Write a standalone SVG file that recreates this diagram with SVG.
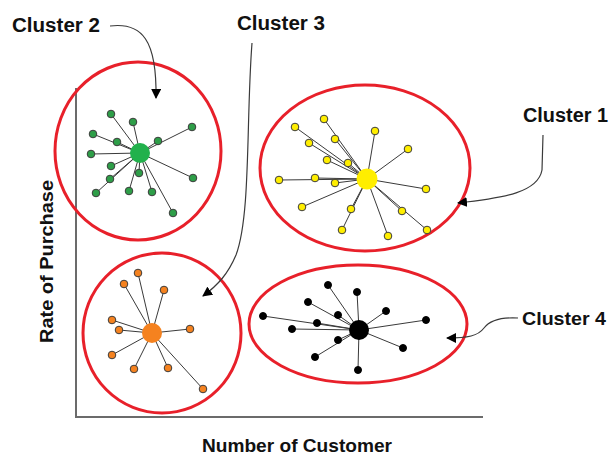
<svg xmlns="http://www.w3.org/2000/svg" width="610" height="457" viewBox="0 0 610 457">
  <style>
    .ring { fill: none; stroke: #e8202a; stroke-width: 3; }
    .spoke { stroke: #3a3a3a; stroke-width: 1; }
    .pt { stroke: #3c3c3c; stroke-width: 1; }
    .green { fill: #2e9e48; }
    .yellow { fill: #ffee00; }
    .orange { fill: #f5821f; }
    .black { fill: #000; stroke: #000; }
    .axis { stroke: #6b6b6b; stroke-width: 2; fill: none; }
    .lbl { font-family: "Liberation Sans", Arial, sans-serif; font-weight: bold; fill: #111; }
    .callout { fill: none; stroke: #3a3a3a; stroke-width: 1.2; marker-end: url(#head); }
  </style>
  <defs>
    <marker id="head" viewBox="0 0 10 10" refX="9" refY="5" markerWidth="10" markerHeight="10" markerUnits="userSpaceOnUse" orient="auto">
      <path d="M0,0 L10,5 L0,10 z" fill="#000"/>
    </marker>
  </defs>
  <rect width="610" height="457" fill="#fff"/>

  <!-- axes -->
  <g id="axes">
    <path class="axis" d="M76,88 V417 H483"/>
    <text class="lbl" x="202" y="452" font-size="19" textLength="190" lengthAdjust="spacingAndGlyphs">Number of Customer</text>
    <text class="lbl" transform="translate(53,343) rotate(-90)" font-size="19" textLength="163" lengthAdjust="spacingAndGlyphs">Rate of Purchase</text>
  </g>

  <!-- Cluster 2: green -->
  <g id="cluster2">
    <ellipse class="ring" cx="138" cy="151" rx="83" ry="89"/>
    <g class="spoke">
      <line x1="140" y1="153" x2="111" y2="114"/>
      <line x1="140" y1="153" x2="133" y2="122"/>
      <line x1="140" y1="153" x2="93" y2="134"/>
      <line x1="140" y1="153" x2="117" y2="142"/>
      <line x1="140" y1="153" x2="192" y2="127"/>
      <line x1="140" y1="153" x2="158" y2="141"/>
      <line x1="140" y1="153" x2="91" y2="154"/>
      <line x1="140" y1="153" x2="111" y2="166"/>
      <line x1="140" y1="153" x2="139" y2="173"/>
      <line x1="140" y1="153" x2="110" y2="179"/>
      <line x1="140" y1="153" x2="193" y2="178"/>
      <line x1="140" y1="153" x2="96" y2="193"/>
      <line x1="140" y1="153" x2="129" y2="191"/>
      <line x1="140" y1="153" x2="152" y2="192"/>
      <line x1="140" y1="153" x2="173" y2="213"/>
    </g>
    <g class="pt green">
      <circle cx="111" cy="114" r="3.8"/>
      <circle cx="133" cy="122" r="3.8"/>
      <circle cx="93" cy="134" r="3.8"/>
      <circle cx="117" cy="142" r="3.8"/>
      <circle cx="192" cy="127" r="3.8"/>
      <circle cx="158" cy="141" r="3.8"/>
      <circle cx="91" cy="154" r="3.8"/>
      <circle cx="111" cy="166" r="3.8"/>
      <circle cx="139" cy="173" r="3.8"/>
      <circle cx="110" cy="179" r="3.8"/>
      <circle cx="193" cy="178" r="3.8"/>
      <circle cx="96" cy="193" r="3.8"/>
      <circle cx="129" cy="191" r="3.8"/>
      <circle cx="152" cy="192" r="3.8"/>
      <circle cx="173" cy="213" r="3.8"/>
    </g>
    <circle cx="140" cy="153" r="10" fill="#22b14c"/>
    <text class="lbl" x="12" y="32" font-size="20" textLength="88" lengthAdjust="spacingAndGlyphs">Cluster 2</text>
  </g>

  <!-- Cluster 1: yellow -->
  <g id="cluster1">
    <ellipse class="ring" cx="365" cy="168" rx="105" ry="83"/>
    <g class="spoke">
      <line x1="367" y1="179" x2="324" y2="119"/>
      <line x1="367" y1="179" x2="295" y2="127"/>
      <line x1="367" y1="179" x2="375" y2="131"/>
      <line x1="367" y1="179" x2="335" y2="139"/>
      <line x1="367" y1="179" x2="309" y2="143"/>
      <line x1="367" y1="179" x2="408" y2="149"/>
      <line x1="367" y1="179" x2="327" y2="160"/>
      <line x1="367" y1="179" x2="348" y2="163"/>
      <line x1="367" y1="179" x2="279" y2="180"/>
      <line x1="367" y1="179" x2="315" y2="178"/>
      <line x1="367" y1="179" x2="335" y2="183"/>
      <line x1="367" y1="179" x2="426" y2="189"/>
      <line x1="367" y1="179" x2="302" y2="207"/>
      <line x1="367" y1="179" x2="351" y2="209"/>
      <line x1="367" y1="179" x2="402" y2="211"/>
      <line x1="367" y1="179" x2="342" y2="230"/>
      <line x1="367" y1="179" x2="388" y2="236"/>
      <line x1="367" y1="179" x2="427" y2="230"/>
    </g>
    <g class="pt yellow">
      <circle cx="324" cy="119" r="3.8"/>
      <circle cx="295" cy="127" r="3.8"/>
      <circle cx="375" cy="131" r="3.8"/>
      <circle cx="335" cy="139" r="3.8"/>
      <circle cx="309" cy="143" r="3.8"/>
      <circle cx="408" cy="149" r="3.8"/>
      <circle cx="327" cy="160" r="3.8"/>
      <circle cx="348" cy="163" r="3.8"/>
      <circle cx="279" cy="180" r="3.8"/>
      <circle cx="315" cy="178" r="3.8"/>
      <circle cx="335" cy="183" r="3.8"/>
      <circle cx="426" cy="189" r="3.8"/>
      <circle cx="302" cy="207" r="3.8"/>
      <circle cx="351" cy="209" r="3.8"/>
      <circle cx="402" cy="211" r="3.8"/>
      <circle cx="342" cy="230" r="3.8"/>
      <circle cx="388" cy="236" r="3.8"/>
      <circle cx="427" cy="230" r="3.8"/>
    </g>
    <circle cx="367" cy="179" r="10.5" fill="#ffee00"/>
    <text class="lbl" x="523" y="122" font-size="20" textLength="85" lengthAdjust="spacingAndGlyphs">Cluster 1</text>
  </g>

  <!-- Cluster 3: orange -->
  <g id="cluster3">
    <ellipse class="ring" cx="162" cy="333" rx="79" ry="80"/>
    <g class="spoke">
      <line x1="152" y1="333" x2="138" y2="273"/>
      <line x1="152" y1="333" x2="124" y2="284"/>
      <line x1="152" y1="333" x2="164" y2="290"/>
      <line x1="152" y1="333" x2="112" y2="320"/>
      <line x1="152" y1="333" x2="119" y2="330"/>
      <line x1="152" y1="333" x2="190" y2="329"/>
      <line x1="152" y1="333" x2="112" y2="355"/>
      <line x1="152" y1="333" x2="134" y2="369"/>
      <line x1="152" y1="333" x2="168" y2="368"/>
      <line x1="152" y1="333" x2="203" y2="389"/>
    </g>
    <g class="pt orange">
      <circle cx="138" cy="273" r="3.8"/>
      <circle cx="124" cy="284" r="3.8"/>
      <circle cx="164" cy="290" r="3.8"/>
      <circle cx="112" cy="320" r="3.8"/>
      <circle cx="119" cy="330" r="3.8"/>
      <circle cx="190" cy="329" r="3.8"/>
      <circle cx="112" cy="355" r="3.8"/>
      <circle cx="134" cy="369" r="3.8"/>
      <circle cx="168" cy="368" r="3.8"/>
      <circle cx="203" cy="389" r="3.8"/>
    </g>
    <circle cx="152" cy="333" r="10" fill="#f5821f"/>
    <text class="lbl" x="237" y="30" font-size="20" textLength="88" lengthAdjust="spacingAndGlyphs">Cluster 3</text>
  </g>

  <!-- Cluster 4: black -->
  <g id="cluster4">
    <ellipse class="ring" cx="358" cy="324" rx="109" ry="59"/>
    <g class="spoke">
      <line x1="359" y1="330" x2="328" y2="285"/>
      <line x1="359" y1="330" x2="357" y2="292"/>
      <line x1="359" y1="330" x2="308" y2="302"/>
      <line x1="359" y1="330" x2="386" y2="311"/>
      <line x1="359" y1="330" x2="263" y2="316"/>
      <line x1="359" y1="330" x2="338" y2="315"/>
      <line x1="359" y1="330" x2="317" y2="323"/>
      <line x1="359" y1="330" x2="426" y2="320"/>
      <line x1="359" y1="330" x2="292" y2="329"/>
      <line x1="359" y1="330" x2="338" y2="340"/>
      <line x1="359" y1="330" x2="403" y2="348"/>
      <line x1="359" y1="330" x2="315" y2="357"/>
      <line x1="359" y1="330" x2="358" y2="370"/>
    </g>
    <g class="pt black">
      <circle cx="328" cy="285" r="3.5"/>
      <circle cx="357" cy="292" r="3.5"/>
      <circle cx="308" cy="302" r="3.5"/>
      <circle cx="386" cy="311" r="3.5"/>
      <circle cx="263" cy="316" r="3.5"/>
      <circle cx="338" cy="315" r="3.5"/>
      <circle cx="317" cy="323" r="3.5"/>
      <circle cx="426" cy="320" r="3.5"/>
      <circle cx="292" cy="329" r="3.5"/>
      <circle cx="338" cy="340" r="3.5"/>
      <circle cx="403" cy="348" r="3.5"/>
      <circle cx="315" cy="357" r="3.5"/>
      <circle cx="358" cy="370" r="3.5"/>
    </g>
    <circle cx="359" cy="330" r="10" fill="#000"/>
    <text class="lbl" x="522" y="325" font-size="19" textLength="84" lengthAdjust="spacingAndGlyphs">Cluster 4</text>
  </g>

  <!-- callout arrows from labels to clusters -->
  <g id="connectors">
    <path class="callout" d="M110,26 C142,22 157,40 156,98"/>
    <path class="callout" d="M252,43 C246,120 251,215 236,255 C228,274 218,285 203,296"/>
    <path class="callout" d="M543,135 L542,170 C538,192 505,198 458,203"/>
    <path class="callout" d="M518,318 C500,317 490,320 484,328 C478,336 468,338 447,338"/>
  </g>
</svg>
